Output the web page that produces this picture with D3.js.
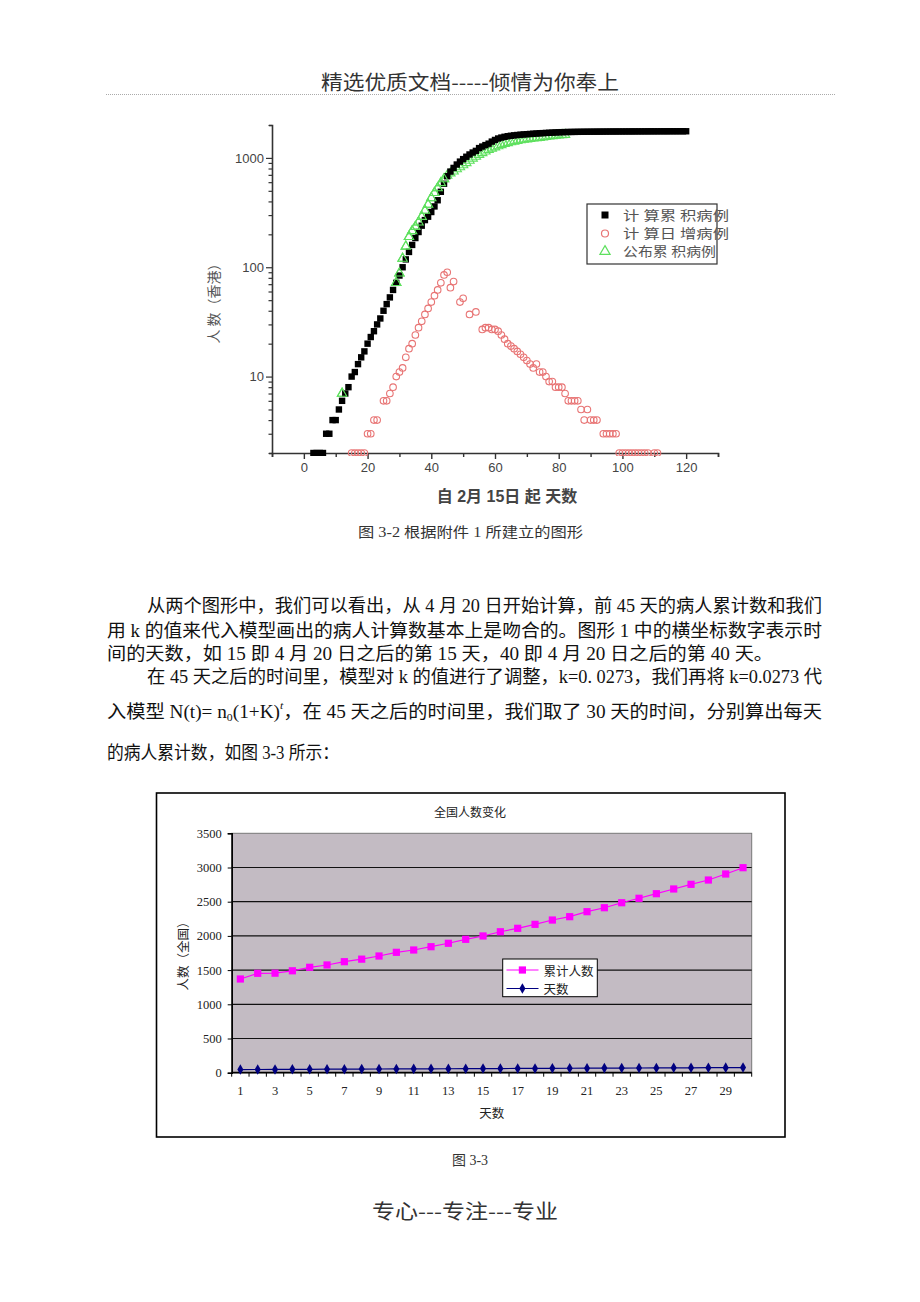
<!DOCTYPE html>
<html><head><meta charset="utf-8">
<script src="https://cdn.jsdelivr.net/npm/d3@7"></script>
<style>body{margin:0;background:#fff} svg{display:block}</style>
</head><body>
<svg id="c" width="920" height="1302"></svg>
<script>
// ---------------- DATA ----------------
// Figure 3-2 (log scale)
const calcStartDay = 3;
const calcCumulative = [2,2,2,2,3,3,4,4,5,6,7,8,10,11,13,15,17,20,23,26,30,34,40,46,53,62,72,84,100,118,
  138,160,185,210,240,270,290,320,360,410,490,580,680,750,810,870,925,975,1025,1075,1120,1160,1230,1270,1310,1350,1410,1460,
  1505,1535,1560,1580,1595,1608,1620,1630,1640,1648,1656,1664,1672,1680,1686,1692,1698,1704,1710,1715,1720,1723,1726,1728,1730,
  1732,1733,1735,1736,1737,1738,1739,1740,1741,1742,1743,1744,1744,1745,1745,1746,1746,1747,1747,1748,1748,1749,1749,1750,1750,1750,1751,1751,1751,
  1752,1752,1752,1753,1753,1753];
const calcDaily = [[15,2],[16,2],[17,2],[18,2],[19,2],[20,3],[21,3],[22,4],[23,4],[25,6],[26,6],[27,7],[28,8],[29,10],[30,11],
  [31,12],[32,15],[33,18],[34,20],[35,24],[36,28],[37,32],[38,37],[39,42],[40,48],[41,55],[42,62],[43,72],[44,85],[45,90],
  [46,65],[47,74],[49,48],[50,52],[52,37],[54,39],[56,27],[57,28],[58,28],[59,27],[60,27],[61,26],[62,24],[63,22],[64,20],
  [65,19],[66,18],[67,17],[68,16],[69,15],[70,14],[71,13],[72,12],[73,13],[74,11],[75,11],[76,10],[77,9],[78,9],[79,8],[80,8],
  [81,8],[82,7],[83,6],[84,6],[85,6],[86,6],[87,5],[88,4],[89,5],[90,4],[91,4],[92,4],[94,3],[95,3],[96,3],[97,3],[98,3],[99,2],
  [100,2],[101,2],[102,2],[103,2],[104,2],[105,2],[106,2],[107,2],[108,2],[110,2],[111,2]];
const publishedCumulative = [[12,7],[29,72],[30,88],[31,120],[32,155],[33,190],[34,215],[35,235],[36,258],[37,290],[38,330],
  [39,375],[40,430],[41,480],[42,530],[43,590],[44,640],[45,690],[46,725],[47,755],[48,790],[49,825],[50,860],[51,900],[52,945],
  [53,990],[54,1030],[55,1070],[56,1110],[57,1150],[58,1185],[59,1220],[60,1255],[61,1285],[62,1315],[63,1345],[64,1370],
  [65,1395],[66,1415],[67,1435],[68,1455],[69,1470],[70,1485],[71,1500],[72,1510],[73,1520],[74,1530],[75,1545],[76,1560],
  [77,1575],[78,1590],[79,1600],[80,1610],[81,1620],[82,1630]];
const topXLabels = [0,20,40,60,80,100,120];
const topYLabels = [10,100,1000];
const topLegend = ["计   算累 积病例","计   算日 增病例","公布累 积病例"];

// Figure 3-3
const bottomDays = [1,2,3,4,5,6,7,8,9,10,11,12,13,14,15,16,17,18,19,20,21,22,23,24,25,26,27,28,29,30];
const cumulativeNational = [1370,1453,1455,1490,1541,1575,1623,1660,1706,1760,1794,1842,1892,1950,1999,2061,2111,2169,
  2232,2281,2354,2412,2485,2550,2617,2686,2754,2817,2905,2997];
const dayNumber = [46,47,48,49,50,51,52,53,54,55,56,57,58,59,60,61,62,63,64,65,66,67,68,69,70,71,72,73,74,75];
const bottomYTicks = [0,500,1000,1500,2000,2500,3000,3500];
const bottomXLabels = [1,3,5,7,9,11,13,15,17,19,21,23,25,27,29];
const bottomSeriesNames = ["累计人数","天数"];

// ---------------- DRAW ----------------
const svg = d3.select("#c");
const CJK = "'Noto Sans CJK SC', sans-serif";
const SERIF = "'Liberation Serif', 'Noto Sans CJK SC', serif";
const SANS = "'Liberation Sans', Arial, 'Noto Sans CJK SC', sans-serif";

// header
svg.append("text").attr("x",470).attr("y",81).attr("text-anchor","middle").attr("dominant-baseline","central")
  .attr("font-family",CJK).attr("font-size",20).attr("fill","#333").attr("textLength",298).attr("lengthAdjust","spacingAndGlyphs")
  .text("精选优质文档-----倾情为你奉上");
svg.append("line").attr("x1",106).attr("x2",835).attr("y1",94.5).attr("y2",94.5).attr("stroke","#aaa").attr("stroke-width",1)
  .attr("stroke-dasharray","1,1");

// ---- top chart ----
const xT = d3.scaleLinear().domain([-10,130]).range([272,718]);
const yT = d3.scaleLog().domain([2,2000]).range([453,125]);
const gT = svg.append("g");
const axisCol = "#333";

const xTicks = d3.range(-10,131,10);
const xAx = gT.append("g").attr("transform","translate(0,453)")
  .call(d3.axisBottom(xT).tickValues(xTicks).tickSizeOuter(0).tickSize(4)
    .tickFormat(d => topXLabels.includes(d) ? d : ""));
xAx.select(".domain").attr("stroke",axisCol).attr("stroke-width",1.6);
xAx.selectAll(".tick line").attr("stroke",axisCol).attr("stroke-width",1.4)
  .attr("y2", d => topXLabels.includes(d) ? 6 : 4);
xAx.selectAll(".tick text").attr("font-family",SANS).attr("font-size",13).attr("fill","#444").attr("dy","0.95em");

let yTicks = [];
[1,10,100,1000].forEach(b => { for (let m=1;m<=9;m++){ const v=b*m; if (v>=2 && v<=2000) yTicks.push(v);} });
const yAx = gT.append("g").attr("transform","translate(272,0)")
  .call(d3.axisLeft(yT).tickValues(yTicks).tickSizeOuter(0).tickSize(3)
    .tickFormat(d => topYLabels.includes(d) ? d : ""));
yAx.select(".domain").attr("stroke",axisCol).attr("stroke-width",1.6);
yAx.selectAll(".tick line").attr("stroke",axisCol).attr("stroke-width",1.2)
  .attr("x2", d => topYLabels.includes(d) ? -6 : -3.5);
yAx.selectAll(".tick text").attr("font-family",SANS).attr("font-size",13).attr("fill","#444").attr("x",-8);

gT.append("text").attr("transform","translate(213,300) rotate(-90)").attr("text-anchor","middle").attr("dominant-baseline","central")
  .attr("font-family",CJK).attr("font-size",14).attr("fill","#555").text("人 数（香港）");
gT.append("text").attr("x",507).attr("y",496).attr("text-anchor","middle").attr("dominant-baseline","central")
  .attr("font-family",SANS).attr("font-weight","bold").attr("font-size",16).attr("fill","#444").text("自 2月 15日 起  天数");

svg.append("clipPath").attr("id","clipT").append("rect").attr("x",272).attr("y",120).attr("width",446).attr("height",336);
const sG = gT.append("g").attr("clip-path","url(#clipT)");
const tri = d3.symbol().type(d3.symbolTriangle).size(38);
sG.selectAll("path.pub").data(publishedCumulative).join("path").attr("class","pub")
  .attr("transform",d=>`translate(${xT(d[0])},${yT(d[1])})`).attr("d",tri())
  .attr("fill","none").attr("stroke","#5ee05e").attr("stroke-width",1.1);
sG.selectAll("circle.daily").data(calcDaily).join("circle").attr("class","daily")
  .attr("cx",d=>xT(d[0])).attr("cy",d=>yT(d[1])).attr("r",3.3)
  .attr("fill","none").attr("stroke","#e87474").attr("stroke-width",1.1);
sG.selectAll("rect.cum").data(calcCumulative).join("rect").attr("class","cum")
  .attr("x",(d,i)=>xT(calcStartDay+i)-3.2).attr("y",d=>yT(d)-3.2).attr("width",6.4).attr("height",6.4).attr("fill","#000");
sG.selectAll("path.pub2").data(publishedCumulative.filter(d=>d[0]<45)).join("path").attr("class","pub2")
  .attr("transform",d=>`translate(${xT(d[0])},${yT(d[1])})`).attr("d",tri())
  .attr("fill","none").attr("stroke","#5ee05e").attr("stroke-width",1.1);

const lg = gT.append("g");
lg.append("rect").attr("x",587).attr("y",204).attr("width",130).attr("height",60).attr("fill","#fff").attr("stroke","#333").attr("stroke-width",1.2);
const ly = [215,233.5,251.5];
lg.append("rect").attr("x",601.5).attr("y",ly[0]-3.5).attr("width",7).attr("height",7).attr("fill","#000");
lg.append("circle").attr("cx",605).attr("cy",ly[1]).attr("r",3.5).attr("fill","none").attr("stroke","#e87474").attr("stroke-width",1.2);
lg.append("path").attr("transform",`translate(605,${ly[2]})`).attr("d",d3.symbol().type(d3.symbolTriangle).size(45)()).attr("fill","none").attr("stroke","#5ee05e").attr("stroke-width",1.2);
const lgLens = [106,106,93];
topLegend.forEach((t,i)=>{
  lg.append("text").attr("x",623).attr("y",ly[i]).attr("dominant-baseline","central").attr("font-family",SERIF)
    .attr("font-size",13).attr("fill","#555").attr("textLength",lgLens[i]).attr("lengthAdjust","spacingAndGlyphs").text(t);
});

svg.append("text").attr("x",358).attr("y",532).attr("dominant-baseline","central").attr("font-family",SERIF)
  .attr("font-size",14).attr("fill","#333").attr("textLength",225).attr("lengthAdjust","spacingAndGlyphs").text("图 3-2 根据附件 1 所建立的图形");

// ---- body text ----
const body = svg.append("g").attr("font-family",SERIF).attr("font-size",18).attr("fill","#111");
function line(x,y,w,str){
  return body.append("text").attr("x",x).attr("y",y).attr("dominant-baseline","central")
    .attr("textLength",w).attr("lengthAdjust","spacingAndGlyphs").text(str);
}
line(147,606,675,"从两个图形中，我们可以看出，从 4 月 20 日开始计算，前 45 天的病人累计数和我们");
line(107,631,715,"用 k 的值来代入模型画出的病人计算数基本上是吻合的。图形 1 中的横坐标数字表示时");
line(107,654,666,"间的天数，如 15 即 4 月 20 日之后的第 15 天，40 即 4 月 20 日之后的第 40 天。");
line(147,677,675,"在 45 天之后的时间里，模型对 k 的值进行了调整，k=0. 0273，我们再将 k=0.0273 代");
const l5 = body.append("text").attr("x",107).attr("y",712).attr("dominant-baseline","central").attr("textLength",715).attr("lengthAdjust","spacingAndGlyphs");
l5.append("tspan").text("入模型  N(t)=  n");
l5.append("tspan").attr("font-size",11).attr("dy",5).text("0");
l5.append("tspan").attr("dy",-5).text("(1+K)");
l5.append("tspan").attr("font-size",11).attr("font-style","italic").attr("dy",-7).text("t");
l5.append("tspan").attr("dy",7).text("，在 45 天之后的时间里，我们取了 30 天的时间，分别算出每天");
line(107,753,232,"的病人累计数，如图 3-3 所示：");

// ---- bottom chart ----
svg.append("rect").attr("x",156.5).attr("y",793).attr("width",628.5).attr("height",344).attr("fill","#fff").attr("stroke","#000").attr("stroke-width",1.6);
svg.append("text").attr("x",470).attr("y",811).attr("text-anchor","middle").attr("dominant-baseline","central")
  .attr("font-family",CJK).attr("font-size",12).attr("fill","#222").text("全国人数变化");

const xB = d3.scaleBand().domain(bottomDays).range([231.7,751.7]);
const yB = d3.scaleLinear().domain([0,3500]).range([1072.7,833.3]);
const gB = svg.append("g");
gB.append("rect").attr("x",231.7).attr("y",833.3).attr("width",520).attr("height",239.4).attr("fill","#c3bbc3").attr("stroke","#777").attr("stroke-width",1);
gB.selectAll("line.grid").data(bottomYTicks.filter(v=>v>0 && v<3500)).join("line").attr("class","grid")
  .attr("x1",231.7).attr("x2",751.7).attr("y1",d=>yB(d)).attr("y2",d=>yB(d)).attr("stroke","#111").attr("stroke-width",1.2);

const yAxB = gB.append("g").attr("transform","translate(231.7,0)")
  .call(d3.axisLeft(yB).tickValues(bottomYTicks).tickFormat(d3.format("d")).tickSizeOuter(0).tickSize(4).tickPadding(6));
yAxB.select(".domain").attr("stroke","#000").attr("stroke-width",1.6);
yAxB.selectAll(".tick line").attr("stroke","#000");
yAxB.selectAll(".tick text").attr("font-family",SERIF).attr("font-size",12.5).attr("fill","#222");

const xAxB = gB.append("g").attr("transform","translate(0,1072.7)");
xAxB.append("line").attr("x1",231.7).attr("x2",751.7).attr("stroke","#000").attr("stroke-width",1.8);
xAxB.selectAll("line.t").data(bottomDays).join("line").attr("class","t")
  .attr("x1",d=>xB(d)+xB.bandwidth()).attr("x2",d=>xB(d)+xB.bandwidth()).attr("y1",0).attr("y2",4).attr("stroke","#000");
xAxB.append("line").attr("x1",231.7).attr("x2",231.7).attr("y1",0).attr("y2",4).attr("stroke","#000");
xAxB.selectAll("text").data(bottomXLabels).join("text").attr("x",d=>xB(d)+xB.bandwidth()/2).attr("y",18)
  .attr("text-anchor","middle").attr("dominant-baseline","central").attr("font-family",SERIF).attr("font-size",12.5).attr("fill","#222").text(d=>d);

gB.append("text").attr("x",491.7).attr("y",1112).attr("text-anchor","middle").attr("dominant-baseline","central")
  .attr("font-family",CJK).attr("font-size",12.5).attr("fill","#222").text("天数");
gB.append("text").attr("transform","translate(182,953) rotate(-90)").attr("text-anchor","middle").attr("dominant-baseline","central")
  .attr("font-family",CJK).attr("font-size",12.5).attr("fill","#222").text("人数（全国）");

const cx = d => xB(d)+xB.bandwidth()/2;
const lineGen = d3.line();
gB.append("path").attr("d",lineGen(dayNumber.map((v,i)=>[cx(bottomDays[i]),yB(v)]))).attr("fill","none").attr("stroke","#000080").attr("stroke-width",1.2);
gB.selectAll("path.dia").data(dayNumber).join("path").attr("class","dia")
  .attr("transform",(v,i)=>`translate(${cx(bottomDays[i])},${yB(v)})`).attr("d",d3.symbol().type(d3.symbolDiamond).size(32)())
  .attr("fill","#000080");
gB.append("path").attr("d",lineGen(cumulativeNational.map((v,i)=>[cx(bottomDays[i]),yB(v)]))).attr("fill","none").attr("stroke","#ff00ff").attr("stroke-width",1.2);
gB.selectAll("rect.sq").data(cumulativeNational).join("rect").attr("class","sq")
  .attr("x",(v,i)=>cx(bottomDays[i])-3.6).attr("y",v=>yB(v)-3.6).attr("width",7.2).attr("height",7.2).attr("fill","#ff00ff");

const lb = gB.append("g");
lb.append("rect").attr("x",502.7).attr("y",959).attr("width",94.6).attr("height",37.7).attr("fill","#fff").attr("stroke","#000").attr("stroke-width",1);
const lbY = [970,988.5];
lb.append("line").attr("x1",506.5).attr("x2",538.5).attr("y1",lbY[0]).attr("y2",lbY[0]).attr("stroke","#ff00ff").attr("stroke-width",1.2);
lb.append("rect").attr("x",518.8).attr("y",lbY[0]-3.6).attr("width",7.2).attr("height",7.2).attr("fill","#ff00ff");
lb.append("line").attr("x1",506.5).attr("x2",538.5).attr("y1",lbY[1]).attr("y2",lbY[1]).attr("stroke","#000080").attr("stroke-width",1.2);
lb.append("path").attr("transform",`translate(522.4,${lbY[1]})`).attr("d",d3.symbol().type(d3.symbolDiamond).size(32)()).attr("fill","#000080");
bottomSeriesNames.forEach((t,i)=>{
  lb.append("text").attr("x",543.5).attr("y",lbY[i]).attr("dominant-baseline","central").attr("font-family",CJK)
    .attr("font-size",12.5).attr("fill","#222").text(t);
});

svg.append("text").attr("x",470).attr("y",1160).attr("text-anchor","middle").attr("dominant-baseline","central")
  .attr("font-family",SERIF).attr("font-size",14).attr("fill","#333").text("图 3-3");

svg.append("text").attr("x",465).attr("y",1210).attr("text-anchor","middle").attr("dominant-baseline","central")
  .attr("font-family",CJK).attr("font-size",20).attr("fill","#333").attr("textLength",186).attr("lengthAdjust","spacingAndGlyphs")
  .text("专心---专注---专业");
</script>
</body></html>
